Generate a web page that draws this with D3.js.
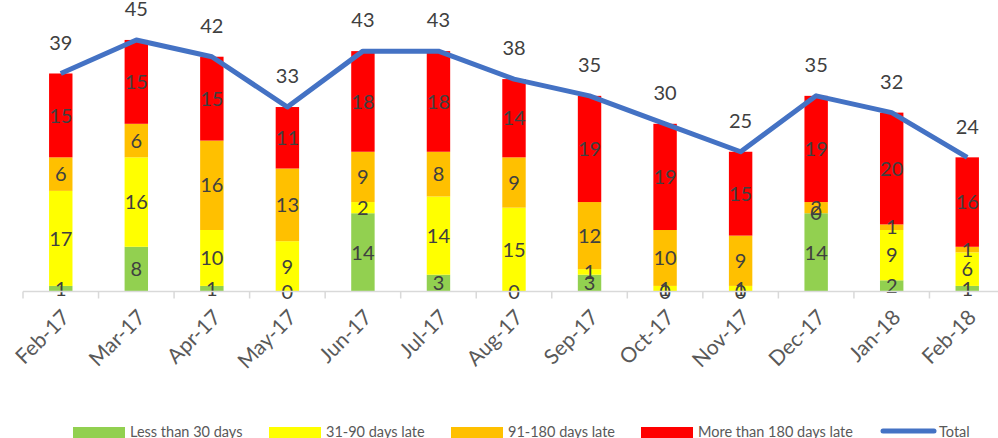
<!DOCTYPE html>
<html>
<head>
<meta charset="utf-8">
<script src="https://cdn.jsdelivr.net/npm/d3@7"></script>
<style>
  body { margin: 0; background: #fff; }
  text { font-family: Lato, "Open Sans", sans-serif; }
</style>
</head>
<body>
<svg width="998" height="438"></svg>
<script>
const months = ["Feb-17", "Mar-17", "Apr-17", "May-17", "Jun-17", "Jul-17", "Aug-17",
    "Sep-17", "Oct-17", "Nov-17", "Dec-17", "Jan-18", "Feb-18"];
const lessThan30 = [1, 8, 1, 0, 14, 3, 0, 3, 0, 0, 14, 2, 1];
const days31to90 = [17, 16, 10, 9, 2, 14, 15, 1, 1, 1, 0, 9, 6];
const days91to180 = [6, 6, 16, 13, 9, 8, 9, 12, 10, 9, 2, 1, 1];
const over180 = [15, 15, 15, 11, 18, 18, 14, 19, 19, 15, 19, 20, 16];
const seriesNames = ["Less than 30 days", "31-90 days late", "91-180 days late", "More than 180 days late"];
const colors = ["#92D050", "#FFFF00", "#FFC000", "#FF0000"];

const svg = d3.select("svg");
const series = [lessThan30, days31to90, days91to180, over180];
const totals = months.map((m, i) => series.reduce((s, arr) => s + arr[i], 0));

const x = d3.scaleBand().domain(months).range([23, 1005]).paddingInner(0.69).paddingOuter(0.345);
const y = d3.scaleLinear().domain([0, 50]).range([291.5, 12]);

// stacked bars
const rows = months.map((m, i) => {
    const r = {month: m};
    seriesNames.forEach((s, k) => r[s] = series[k][i]);
    return r;
});
const stacked = d3.stack().keys(seriesNames)(rows);

const g = svg.append("g");
stacked.forEach((layer, k) => {
    g.append("g").selectAll("rect")
        .data(layer)
        .enter().append("rect")
        .attr("x", d => x(d.data.month))
        .attr("width", x.bandwidth())
        .attr("y", d => y(d[1]))
        .attr("height", d => y(d[0]) - y(d[1]))
        .style("fill", colors[k]);
});

// x axis
const axis = svg.append("g").attr("transform", `translate(0,${y(0)})`);
axis.append("line").attr("x1", 23).attr("x2", 1005).attr("y1", 0).attr("y2", 0)
    .style("stroke", "#d9d9d9").style("stroke-width", 1.5);
const step = x.step();
d3.range(months.length + 1).forEach(i => {
    axis.append("line")
        .attr("x1", 23 + i * step).attr("x2", 23 + i * step)
        .attr("y1", 0).attr("y2", 7)
        .style("stroke", "#d9d9d9").style("stroke-width", 1.5);
});
axis.selectAll("text.tick")
    .data(months)
    .enter().append("text")
    .attr("class", "tick")
    .attr("transform", d => `translate(${x(d) + x.bandwidth() / 2 + 5},${22}) rotate(-45)`)
    .attr("text-anchor", "end")
    .attr("dy", "0.35em")
    .style("font-size", "21px")
    .style("fill", "#595959")
    .text(d => d);

// segment labels
stacked.forEach((layer, k) => {
    g.append("g").selectAll("text")
        .data(layer)
        .enter().append("text")
        .attr("x", d => x(d.data.month) + x.bandwidth() / 2)
        .attr("y", d => (y(d[0]) + y(d[1])) / 2)
        .attr("dy", "0.36em")
        .attr("text-anchor", "middle")
        .style("font-size", "20px")
        .style("fill", "#404040")
        .text(d => d[1] - d[0]);
});

// total line
const line = d3.line()
    .x((d, i) => x(months[i]) + x.bandwidth() / 2)
    .y(d => y(d));
svg.append("path")
    .datum(totals)
    .attr("d", line)
    .style("fill", "none")
    .style("stroke", "#4472C4")
    .style("stroke-width", 5)
    .style("stroke-linejoin", "round");

svg.append("g").selectAll("text")
    .data(totals)
    .enter().append("text")
    .attr("x", (d, i) => x(months[i]) + x.bandwidth() / 2)
    .attr("y", d => y(d) - 31)
    .attr("dy", "0.36em")
    .attr("text-anchor", "middle")
    .style("font-size", "20px")
    .style("fill", "#404040")
    .text(d => d);

// legend
const legendX = [73, 269, 451, 641];
const legend = svg.append("g");
seriesNames.forEach((s, k) => {
    legend.append("rect")
        .attr("x", legendX[k]).attr("y", 427)
        .attr("width", 52).attr("height", 11)
        .style("fill", colors[k]);
    legend.append("text")
        .attr("x", legendX[k] + 57).attr("y", 432)
        .attr("dy", "0.35em")
        .style("font-size", "14.5px")
        .style("fill", "#595959")
        .text(s);
});
legend.append("line")
    .attr("x1", 883).attr("x2", 934).attr("y1", 431).attr("y2", 431)
    .style("stroke", "#4472C4").style("stroke-width", 5).style("stroke-linecap", "round");
legend.append("text")
    .attr("x", 939).attr("y", 432)
    .attr("dy", "0.35em")
    .style("font-size", "14.5px")
    .style("fill", "#595959")
    .text("Total");
</script>
</body>
</html>
